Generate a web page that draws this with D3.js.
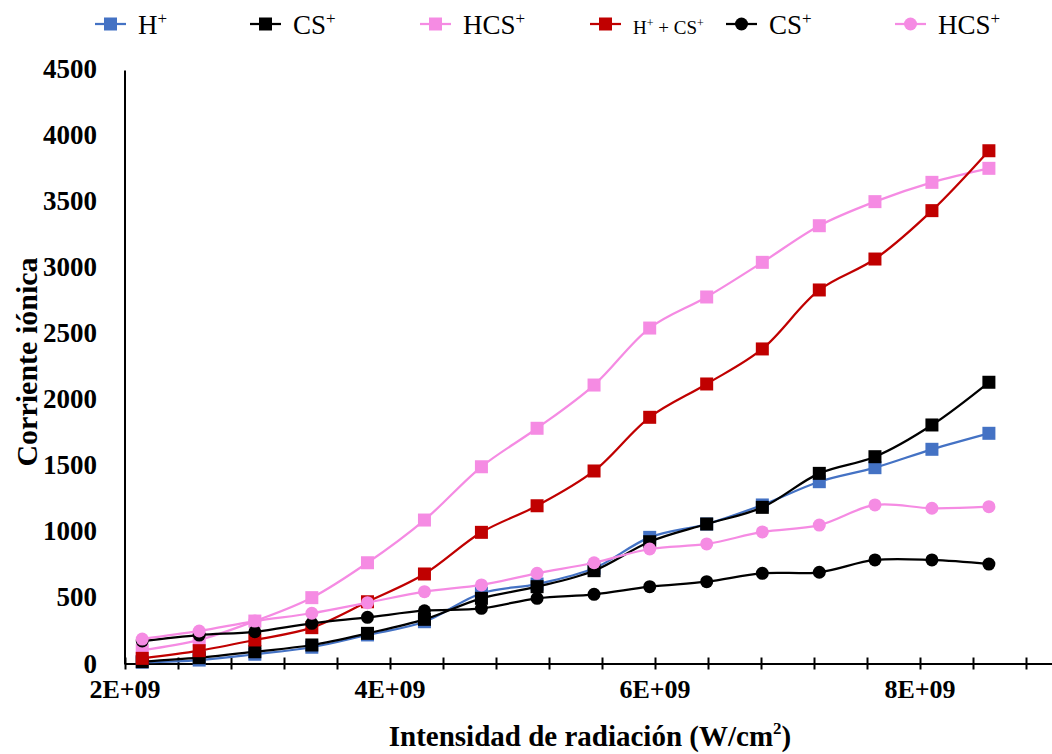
<!DOCTYPE html>
<html>
<head>
<meta charset="utf-8">
<script src="https://cdn.jsdelivr.net/npm/d3@7"></script>
<style>
  html, body { margin: 0; padding: 0; background: #fff; }
  svg { display: block; }
  text { font-family: "Times New Roman", "Liberation Serif", serif; fill: #000; }
</style>
</head>
<body>
<svg id="chart" width="1052" height="754"></svg>
<script>
// Radiation intensity (W/cm²) for each measurement
const intensity = [2.13e9, 2.56e9, 2.98e9, 3.41e9, 3.83e9, 4.26e9, 4.69e9, 5.11e9,
                   5.54e9, 5.96e9, 6.39e9, 6.81e9, 7.24e9, 7.66e9, 8.09e9, 8.52e9];

// Ion current per species
const hPlus       = [10, 26, 70, 123, 216, 316, 531, 601, 720, 954, 1055, 1199, 1375, 1481, 1620, 1741];
const csPlusSq    = [14, 44, 89, 140, 228, 334, 493, 581, 702, 921, 1055, 1181, 1438, 1564, 1804, 2127];
const hcsPlusSq   = [100, 178, 321, 498, 762, 1085, 1488, 1779, 2106, 2537, 2772, 3034, 3311, 3493, 3639, 3745];
const hPlusCsPlus = [39, 97, 178, 271, 467, 677, 992, 1193, 1456, 1862, 2114, 2379, 2825, 3059, 3425, 3878];
const csPlusCirc  = [170, 215, 240, 304, 349, 399, 417, 493, 523, 581, 619, 682, 690, 783, 783, 752];
const hcsPlusCirc = [185, 246, 321, 380, 460, 543, 594, 682, 762, 866, 904, 995, 1047, 1199, 1174, 1186];

// Axis ticks
const yTicks = [0, 500, 1000, 1500, 2000, 2500, 3000, 3500, 4000, 4500];
const xLabelTicks = [2e9, 4e9, 6e9, 8e9];
const xMinorTicks = [2.0e9, 2.4e9, 2.8e9, 3.2e9, 3.6e9, 4.0e9, 4.4e9, 4.8e9, 5.2e9, 5.6e9,
                     6.0e9, 6.4e9, 6.8e9, 7.2e9, 7.6e9, 8.0e9, 8.4e9, 8.8e9];

const series = [
  { name: "H", small: false, values: hPlus,       color: "#4472C4", marker: "square" },
  { name: "CS", small: false, values: csPlusSq,   color: "#000000", marker: "square" },
  { name: "HCS", small: false, values: hcsPlusSq, color: "#F58BE3", marker: "square" },
  { name: "H+CS", small: true, values: hPlusCsPlus, color: "#C00000", marker: "square" },
  { name: "CS", small: false, values: csPlusCirc,  color: "#000000", marker: "circle" },
  { name: "HCS", small: false, values: hcsPlusCirc, color: "#F58BE3", marker: "circle" }
];

const svg = d3.select("#chart");

const x = d3.scaleLinear().domain([2e9, 9e9]).range([125, 1052.5]);
const y = d3.scaleLinear().domain([0, 4500]).range([663.5, 68.5]);

const fmtE = v => (v / 1e9).toFixed(0) + "E+09";

// Y axis: line and labels only
svg.append("line")
  .attr("x1", x(2e9)).attr("x2", x(2e9))
  .attr("y1", y(4500) + 2).attr("y2", y(0) + 1)
  .attr("stroke", "#000").attr("stroke-width", 2);

svg.append("g").selectAll("text").data(yTicks).join("text")
  .attr("x", 97)
  .attr("y", d => y(d) + 9)
  .attr("text-anchor", "end")
  .attr("font-size", 27)
  .attr("font-weight", "bold")
  .text(d => d);

// X axis: line with crossing ticks
const xAxis = d3.axisBottom(x)
  .tickValues(xMinorTicks)
  .tickSizeInner(0).tickSizeOuter(0)
  .tickFormat("");
const gx = svg.append("g").attr("transform", `translate(0,${y(0)})`).call(xAxis);
gx.select(".domain").attr("stroke", "#000").attr("stroke-width", 2);
gx.selectAll(".tick line")
  .attr("y1", -6).attr("y2", 6)
  .attr("stroke", "#000").attr("stroke-width", 2);

svg.append("g").selectAll("text").data(xLabelTicks).join("text")
  .attr("x", d => x(d))
  .attr("y", 698)
  .attr("text-anchor", "middle")
  .attr("font-size", 26)
  .attr("font-weight", "bold")
  .text(fmtE);

// Axis titles
const xt = svg.append("text")
  .attr("x", 590).attr("y", 746)
  .attr("text-anchor", "middle")
  .attr("font-size", 29)
  .attr("font-weight", "bold");
xt.append("tspan").text("Intensidad de radiación (W/cm");
xt.append("tspan").attr("font-size", 17).attr("dy", -12).text("2");
xt.append("tspan").attr("dy", 12).text(")");

svg.append("text")
  .attr("transform", "translate(37,362) rotate(-90)")
  .attr("text-anchor", "middle")
  .attr("font-size", 30)
  .attr("font-weight", "bold")
  .text("Corriente iónica");

// Series lines and markers
const line = d3.line()
  .x((d, i) => x(intensity[i]))
  .y(d => y(d))
  .curve(d3.curveCatmullRom.alpha(0.5));

const plot = svg.append("g");
series.forEach(s => {
  const g = plot.append("g");
  g.append("path")
    .attr("d", line(s.values))
    .attr("fill", "none")
    .attr("stroke", s.color)
    .attr("stroke-width", 2.25);
  if (s.marker === "square") {
    g.selectAll("rect").data(s.values).join("rect")
      .attr("x", (d, i) => x(intensity[i]) - 6.5)
      .attr("y", d => y(d) - 6.5)
      .attr("width", 13).attr("height", 13)
      .attr("fill", s.color);
  } else {
    g.selectAll("circle").data(s.values).join("circle")
      .attr("cx", (d, i) => x(intensity[i]))
      .attr("cy", d => y(d))
      .attr("r", 6.5)
      .attr("fill", s.color);
  }
});

// Legend
const legendX = [95, 250, 420, 590, 726, 895];
const legend = svg.append("g");
series.forEach((s, i) => {
  const lx = legendX[i];
  const g = legend.append("g");
  g.append("line")
    .attr("x1", lx).attr("x2", lx + 31)
    .attr("y1", 24).attr("y2", 24)
    .attr("stroke", s.color).attr("stroke-width", 2.25);
  if (s.marker === "square") {
    g.append("rect").attr("x", lx + 15.5 - 6.5).attr("y", 24 - 6.5)
      .attr("width", 13).attr("height", 13).attr("fill", s.color);
  } else {
    g.append("circle").attr("cx", lx + 15.5).attr("cy", 24).attr("r", 6.5).attr("fill", s.color);
  }
  const t = g.append("text").attr("x", lx + 43).attr("y", 34);
  if (s.small) {
    t.attr("font-size", 19);
    t.append("tspan").text("H");
    t.append("tspan").attr("font-size", 12).attr("dy", -7).text("+");
    t.append("tspan").attr("dy", 7).text(" + CS");
    t.append("tspan").attr("font-size", 12).attr("dy", -7).text("+");
  } else {
    t.attr("font-size", 27);
    t.append("tspan").text(s.name);
    t.append("tspan").attr("font-size", 17).attr("dy", -10).text("+");
  }
});
</script>
</body>
</html>
